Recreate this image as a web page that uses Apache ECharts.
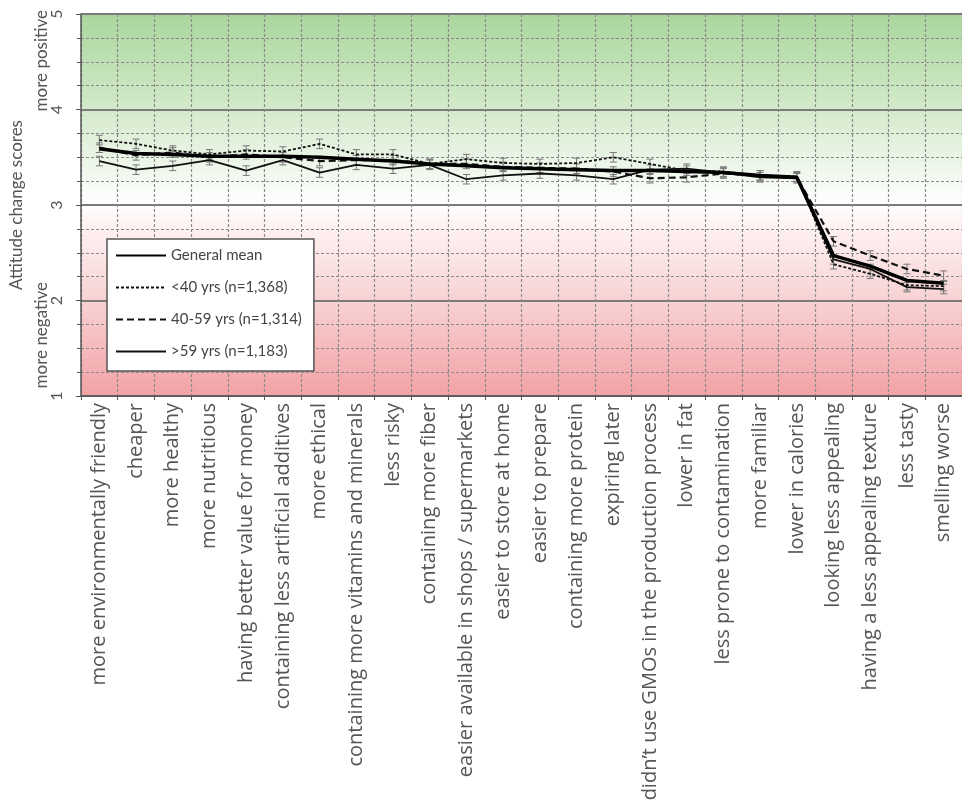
<!DOCTYPE html>
<html>
<head>
<meta charset="utf-8">
<script src="https://cdn.jsdelivr.net/npm/echarts@6/dist/echarts.min.js"></script>
<style>
html,body{margin:0;padding:0;background:#fff;}
#chart{width:962px;height:810px;}
</style>
</head>
<body>
<div id="chart"></div>
<script>
const categories = [
  'more environmentally friendly','cheaper','more healthy','more nutritious',
  'having better value for money','containing less artificial additives','more ethical',
  'containing more vitamins and minerals','less risky','containing more fiber',
  'easier available in shops / supermarkets','easier to store at home','easier to prepare',
  'containing more protein','expiring later','didn’t use GMOs in the production process',
  'lower in fat','less prone to contamination','more familiar','lower in calories',
  'looking less appealing','having a less appealing texture','less tasty','smelling worse'
];
const generalMean = [3.59,3.54,3.53,3.51,3.51,3.51,3.50,3.48,3.46,3.43,3.41,3.39,3.38,3.37,3.36,3.36,3.35,3.34,3.31,3.29,2.47,2.36,2.21,2.18];
const under40     = [3.68,3.64,3.57,3.53,3.57,3.56,3.64,3.53,3.53,3.43,3.48,3.44,3.43,3.44,3.50,3.43,3.36,3.35,3.31,3.30,2.38,2.28,2.16,2.15];
const age40to59   = [3.60,3.52,3.55,3.50,3.53,3.50,3.46,3.47,3.47,3.43,3.43,3.40,3.39,3.38,3.35,3.28,3.29,3.33,3.31,3.29,2.62,2.47,2.33,2.26];
const over59      = [3.46,3.37,3.41,3.47,3.36,3.47,3.34,3.42,3.38,3.42,3.27,3.31,3.33,3.31,3.27,3.37,3.38,3.34,3.29,3.28,2.43,2.33,2.14,2.12];
const errUnder40  = [0.05,0.05,0.05,0.05,0.05,0.05,0.05,0.05,0.05,0.05,0.05,0.05,0.05,0.05,0.05,0.05,0.05,0.05,0.05,0.05,0.05,0.05,0.05,0.05];
const err40to59   = [0.05,0.05,0.05,0.05,0.05,0.05,0.05,0.05,0.05,0.05,0.05,0.05,0.05,0.05,0.05,0.05,0.05,0.05,0.05,0.05,0.05,0.05,0.05,0.05];
const errOver59   = [0.05,0.05,0.05,0.05,0.05,0.05,0.05,0.05,0.05,0.05,0.05,0.05,0.05,0.05,0.05,0.05,0.05,0.05,0.05,0.05,0.05,0.05,0.05,0.05];
const yTicks = [1,2,3,4,5];
const seriesNames = ['General mean','<40 yrs (n=1,368)','40-59 yrs (n=1,314)','>59 yrs (n=1,183)'];

const chart = echarts.init(document.getElementById('chart'));
const FONT = 'Lato';

function errorSeries(vals, errs) {
  return {
    type: 'custom',
    silent: true,
    z: 3,
    data: vals.map((v, i) => [i, v, errs[i]]),
    encode: { x: 0, y: 1 },
    renderItem: function (params, api) {
      const i = api.value(0), v = api.value(1), e = api.value(2);
      const hi = api.coord([i, v + e]);
      const lo = api.coord([i, v - e]);
      const w = 3.5;
      const st = { stroke: '#777', lineWidth: 1 };
      return { type: 'group', children: [
        { type: 'line', shape: { x1: hi[0], y1: hi[1], x2: lo[0], y2: lo[1] }, style: st },
        { type: 'line', shape: { x1: hi[0]-w, y1: hi[1], x2: hi[0]+w, y2: hi[1] }, style: st },
        { type: 'line', shape: { x1: lo[0]-w, y1: lo[1], x2: lo[0]+w, y2: lo[1] }, style: st }
      ]};
    }
  };
}

const option = {
  animation: false,
  textStyle: { fontFamily: FONT },
  grid: {
    left: 80, top: 14, right: -14, bottom: 414,
    show: true, borderWidth: 0,
    backgroundColor: new echarts.graphic.LinearGradient(0, 0, 0, 1, [
      { offset: 0, color: '#a9d69c' },
      { offset: 0.25, color: '#d3eacb' },
      { offset: 0.45, color: '#f7fbf5' },
      { offset: 0.5, color: '#ffffff' },
      { offset: 0.52, color: '#fff8f8' },
      { offset: 0.75, color: '#f8d2d3' },
      { offset: 1, color: '#f2a2a5' }
    ])
  },
  legend: {
    data: seriesNames,
    orient: 'vertical',
    left: 107, top: 239,
    backgroundColor: '#fff',
    borderColor: '#555', borderWidth: 1.5,
    padding: [9, 12, 12, 8],
    itemWidth: 50, itemHeight: 14, itemGap: 17,
    itemStyle: { color: 'transparent', borderWidth: 0, opacity: 0 },
    textStyle: { fontFamily: FONT, fontSize: 15, color: '#444' }
  },
  xAxis: {
    type: 'category',
    data: categories,
    boundaryGap: true,
    axisLine: { lineStyle: { color: '#555', width: 1.5 } },
    axisTick: { show: true, alignWithLabel: false, length: 4, lineStyle: { color: '#555' } },
    axisLabel: { interval: 0, rotate: 90, margin: 7, fontFamily: 'Open Sans', fontSize: 20, color: '#555' },
    splitLine: { show: true, interval: 0, lineStyle: { color: '#8a8a8a', type: [3, 2], width: 1.2 } }
  },
  yAxis: {
    type: 'value',
    min: 1, max: 5, interval: 1,
    name: 'Attitude change scores',
    nameLocation: 'middle', nameRotate: 90, nameGap: 56,
    nameTextStyle: { fontFamily: FONT, fontSize: 17, color: '#555' },
    axisLine: { show: true, lineStyle: { color: '#555', width: 1.5 } },
    axisTick: { show: true, length: 5, inside: false, lineStyle: { color: '#555' } },
    minorTick: { show: true, splitNumber: 4, length: 4, lineStyle: { color: '#555' } },
    axisLabel: {
      rotate: 90, margin: 16, fontFamily: FONT, fontSize: 16, color: '#555',
      formatter: v => yTicks.indexOf(v) >= 0 ? String(v) : ''
    },
    splitLine: { show: true, lineStyle: { color: '#7a7a7a', width: 2 } },
    minorSplitLine: { show: true, lineStyle: { color: '#8a8a8a', type: [3, 2], width: 1.2 } }
  },
  graphic: [
    { type: 'text', left: 33, top: 10, rotation: Math.PI/2, style: { text: 'more positive', fontFamily: FONT, fontSize: 17, fill: '#555' } },
    { type: 'text', left: 33, top: 282, rotation: Math.PI/2, style: { text: 'more negative', fontFamily: FONT, fontSize: 17, fill: '#555' } }
  ],
  series: [
    errorSeries(under40, errUnder40),
    errorSeries(age40to59, err40to59),
    errorSeries(over59, errOver59),
    { name: seriesNames[1], type: 'line', data: under40, symbol: 'none', z: 4,
      lineStyle: { color: '#111', width: 1.8, type: [3, 2] }, itemStyle: { color: '#111' } },
    { name: seriesNames[2], type: 'line', data: age40to59, symbol: 'none', z: 4,
      lineStyle: { color: '#111', width: 2.2, type: [7, 4] }, itemStyle: { color: '#111' } },
    { name: seriesNames[3], type: 'line', data: over59, symbol: 'none', z: 4,
      lineStyle: { color: '#111', width: 1.8 }, itemStyle: { color: '#111' } },
    { name: seriesNames[0], type: 'line', data: generalMean, symbol: 'none', z: 5,
      lineStyle: { color: '#000', width: 3.5 }, itemStyle: { color: '#000' } }
  ]
};
chart.setOption(option);
</script>
</body>
</html>
